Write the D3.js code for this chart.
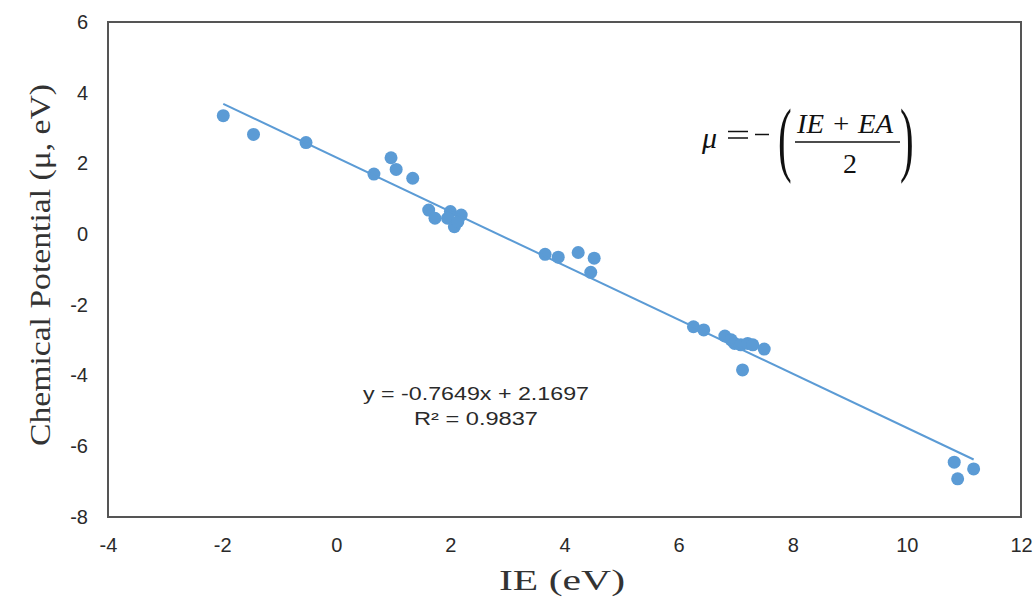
<html>
	<head>
		<meta charset="utf-8">
		<script src="https://d3js.org/d3.v7.min.js"></script>
		<style>
			body { margin: 0; background: #fff; }
			svg { display: block; }
		</style>
	</head>
	<body>
		<svg id="chart" width="1034" height="601"></svg>

		<script type="text/javascript">

		// Data
		var ie = [-1.98, -1.45, -0.53, 0.66, 0.96, 1.05, 1.34, 1.62, 1.73, 2.00, 1.95, 2.07, 2.19, 2.13,
			3.66, 3.89, 4.24, 4.52, 4.46, 6.26, 6.44, 6.81, 6.92, 6.98, 7.09, 7.21, 7.30, 7.50, 7.12,
			10.83, 11.17, 10.89];
		var mu = [3.35, 2.82, 2.59, 1.70, 2.16, 1.83, 1.58, 0.68, 0.45, 0.64, 0.45, 0.21, 0.54, 0.35,
			-0.57, -0.65, -0.52, -0.68, -1.08, -2.62, -2.71, -2.88, -2.99, -3.09, -3.13, -3.09, -3.13, -3.25, -3.84,
			-6.45, -6.64, -6.92];
		var xTicks = [-4, -2, 0, 2, 4, 6, 8, 10, 12];
		var yTicks = [-8, -6, -4, -2, 0, 2, 4, 6];
		var slope = -0.7649;
		var intercept = 2.1697;
		var eqLabels = ["y = -0.7649x + 2.1697", "R\u00b2 = 0.9837"];

		var blue = "#5B9BD5";
		var ink = "#2a2a2a";
		var svg = d3.select("#chart");

		var x = d3.scaleLinear().domain([-4, 12]).range([108, 1021]);
		var y = d3.scaleLinear().domain([-8, 6]).range([517, 22]);

		// plot frame
		svg.append("rect")
			.attr("x", x(-4)).attr("y", y(6))
			.attr("width", x(12) - x(-4)).attr("height", y(-8) - y(6))
			.style("fill", "none")
			.style("stroke", "#555")
			.style("stroke-width", 2);

		// axes - labels only, no tick marks, plain hyphen for negatives
		var plain = function(d){ return String(d); };
		svg.append("g")
			.attr("transform", "translate(" + x(-4) + ",0)")
			.call(d3.axisLeft(y).tickValues(yTicks).tickFormat(plain).tickSize(0).tickPadding(20));
		svg.append("g")
			.attr("transform", "translate(0," + y(-8) + ")")
			.call(d3.axisBottom(x).tickValues(xTicks).tickFormat(plain).tickSize(0).tickPadding(21));
		svg.selectAll(".domain").remove();
		svg.selectAll(".tick text")
			.style("font-family", "'Liberation Sans', Arial, sans-serif")
			.style("font-size", "20px")
			.style("fill", ink);

		// points
		svg.append("g").selectAll("circle")
			.data(d3.range(ie.length))
			.enter().append("circle")
			.attr("cx", function(i){ return x(ie[i]); })
			.attr("cy", function(i){ return y(mu[i]); })
			.attr("r", 6.5)
			.style("fill", blue);

		// linear trendline across the data range
		var ext = d3.extent(ie);
		svg.append("line")
			.attr("x1", x(ext[0])).attr("y1", y(slope * ext[0] + intercept))
			.attr("x2", x(ext[1])).attr("y2", y(slope * ext[1] + intercept))
			.style("stroke", blue)
			.style("stroke-width", 2);

		// trendline equation
		svg.selectAll(".eq")
			.data(eqLabels)
			.enter().append("text")
			.attr("class", "eq")
			.attr("x", 476)
			.attr("y", function(d, i){ return 400 + i * 25; })
			.attr("text-anchor", "middle")
			.attr("textLength", function(d, i){ return i === 0 ? 226 : 124; })
			.attr("lengthAdjust", "spacingAndGlyphs")
			.style("font-family", "'Liberation Sans', Arial, sans-serif")
			.style("font-size", "18px")
			.style("fill", ink)
			.text(function(d){ return d; });

		// axis titles
		svg.append("text")
			.attr("x", 562).attr("y", 590)
			.attr("text-anchor", "middle")
			.attr("textLength", 126)
			.attr("lengthAdjust", "spacingAndGlyphs")
			.style("font-family", "'Liberation Serif', 'Times New Roman', serif")
			.style("font-size", "30px")
			.style("fill", "#333")
			.text("IE (eV)");

		svg.append("text")
			.attr("transform", "translate(50,265) rotate(-90)")
			.attr("text-anchor", "middle")
			.attr("textLength", 362)
			.attr("lengthAdjust", "spacingAndGlyphs")
			.style("font-family", "'Liberation Serif', 'Times New Roman', serif")
			.style("font-size", "30px")
			.style("fill", "#333")
			.text("Chemical Potential (\u03bc, eV)");

		// formula  mu = -((IE + EA)/2)
		var f = svg.append("g")
			.style("font-family", "'Liberation Serif', 'Times New Roman', serif")
			.style("fill", "#111");
		f.append("text").attr("x", 702).attr("y", 148)
			.style("font-size", "30px").style("font-style", "italic").text("\u03bc");
		// equals and minus as short rules, the way the equation editor spaces them
		f.append("line").attr("x1", 728).attr("x2", 748).attr("y1", 131.5).attr("y2", 131.5)
			.style("stroke", "#111").style("stroke-width", 1.5);
		f.append("line").attr("x1", 728).attr("x2", 748).attr("y1", 138).attr("y2", 138)
			.style("stroke", "#111").style("stroke-width", 1.5);
		f.append("line").attr("x1", 755).attr("x2", 769).attr("y1", 134.5).attr("y2", 134.5)
			.style("stroke", "#111").style("stroke-width", 1.5);
		f.append("text").attr("x", 797).attr("y", 133)
			.attr("textLength", 96)
			.attr("lengthAdjust", "spacingAndGlyphs")
			.style("font-size", "28px").style("font-style", "italic").text("IE + EA");
		f.append("line")
			.attr("x1", 795).attr("x2", 900).attr("y1", 142).attr("y2", 142)
			.style("stroke", "#111").style("stroke-width", 1.5);
		f.append("text").attr("x", 850).attr("y", 173)
			.attr("text-anchor", "middle")
			.style("font-size", "28px").text("2");
		f.append("text")
			.attr("transform", "translate(778,166) scale(0.5,1)")
			.style("font-size", "82px").text("(");
		f.append("text")
			.attr("transform", "translate(900,166) scale(0.5,1)")
			.style("font-size", "82px").text(")");

		</script>
	</body>
</html>
